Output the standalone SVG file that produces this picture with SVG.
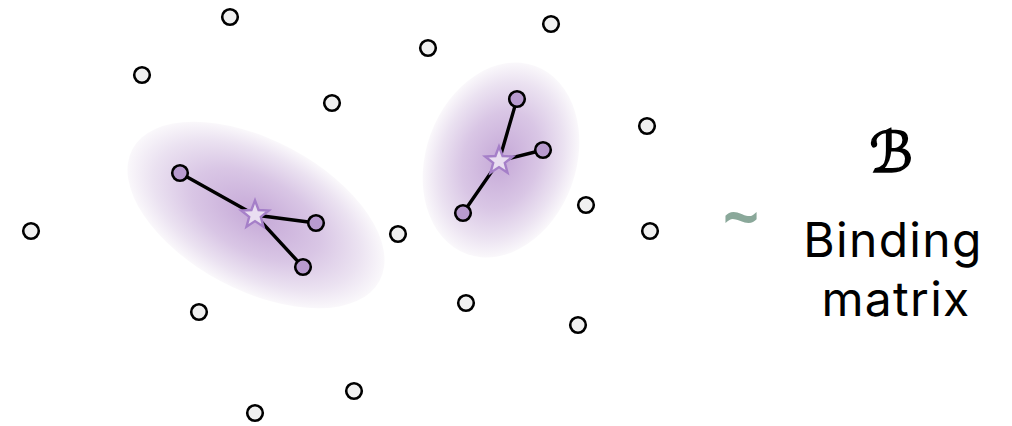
<svg xmlns="http://www.w3.org/2000/svg" width="1012" height="426" viewBox="0 0 1012 426">
<style>
.n{fill:#f0f0f0;stroke:#000;stroke-width:2.6}
.p{fill:#b89bcf;stroke:#000;stroke-width:2.6}
.e{stroke:#000;stroke-width:3.4;stroke-linecap:round}
.s{fill:#e9def1;stroke:#a57fc8;stroke-width:2.4;stroke-linejoin:miter}
.t{font-family:Inter,"Noto Sans",sans-serif;fill:#000;text-anchor:middle;letter-spacing:1.3px}
</style>
<defs>
<radialGradient id="g">
<stop offset="0" stop-color="#c5a8d7"/>
<stop offset="0.5" stop-color="#d9c6e5"/>
<stop offset="0.8" stop-color="#ebe2f1"/>
<stop offset="1" stop-color="#faf8fb"/>
</radialGradient>
<polygon id="star" points="0,-14.5 3.6,-5 13.8,-4.5 5.8,1.9 8.5,11.7 0,6.1 -8.5,11.7 -5.8,1.9 -13.8,-4.5 -3.6,-5"/>
</defs>
<rect width="1012" height="426" fill="#fff"/>
<g id="clusters">
<ellipse cx="256" cy="215" rx="140" ry="75" transform="rotate(28 256 215)" fill="url(#g)"/>
<ellipse cx="501" cy="160" rx="75" ry="100" transform="rotate(20 501 160)" fill="url(#g)"/>
</g>
<g id="connectors">
<line class="e" x1="255" y1="215" x2="180" y2="173"/>
<line class="e" x1="255" y1="215" x2="316" y2="223"/>
<line class="e" x1="255" y1="215" x2="303" y2="267"/>
<line class="e" x1="499" y1="161" x2="517" y2="99"/>
<line class="e" x1="499" y1="161" x2="543" y2="150"/>
<line class="e" x1="499" y1="161" x2="463" y2="213"/>
</g>
<g id="stars">
<use href="#star" class="s" x="255" y="215"/>
<use href="#star" class="s" x="499" y="161"/>
</g>
<g id="purple-nodes">
<circle class="p" cx="180" cy="173" r="7.8"/>
<circle class="p" cx="316" cy="223" r="7.8"/>
<circle class="p" cx="303" cy="267" r="7.8"/>
<circle class="p" cx="517" cy="99" r="7.8"/>
<circle class="p" cx="543" cy="150" r="7.8"/>
<circle class="p" cx="463" cy="213" r="7.8"/>
</g>
<g id="nodes">
<circle class="n" cx="230" cy="17" r="7.8"/>
<circle class="n" cx="142" cy="75" r="7.8"/>
<circle class="n" cx="332" cy="103" r="7.8"/>
<circle class="n" cx="428" cy="48" r="7.8"/>
<circle class="n" cx="551" cy="24" r="7.8"/>
<circle class="n" cx="647" cy="126" r="7.8"/>
<circle class="n" cx="586" cy="205" r="7.8"/>
<circle class="n" cx="650" cy="231" r="7.8"/>
<circle class="n" cx="398" cy="234" r="7.8"/>
<circle class="n" cx="31" cy="231" r="7.8"/>
<circle class="n" cx="199" cy="312" r="7.8"/>
<circle class="n" cx="466" cy="303" r="7.8"/>
<circle class="n" cx="578" cy="325" r="7.8"/>
<circle class="n" cx="354" cy="391" r="7.8"/>
<circle class="n" cx="255" cy="413" r="7.8"/>
</g>
<g id="label">
<text x="741" y="240" font-family="'Noto Sans',sans-serif" font-size="64" font-weight="bold" fill="#8aa89a" text-anchor="middle">~</text>
<text x="891" y="172" font-family="'DejaVu Sans',sans-serif" font-size="56" stroke="#000" stroke-width="1.6" text-anchor="middle">ℬ</text>
<text class="t" font-size="48"><tspan x="893" y="257">Binding</tspan><tspan x="896" y="316">matrix</tspan></text>
</g>
</svg>
